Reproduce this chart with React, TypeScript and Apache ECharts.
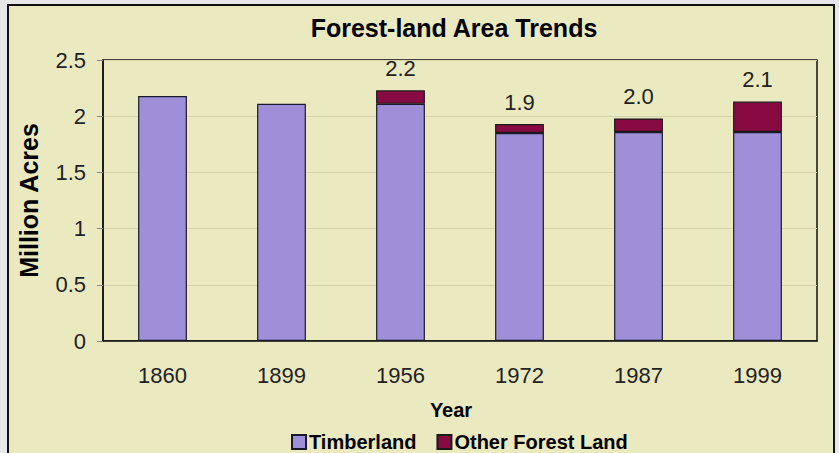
import React, { useEffect, useRef } from "react";
import * as echarts from "echarts";

const years = ["1860", "1899", "1956", "1972", "1987", "1999"];
const timberland = [2.18, 2.11, 2.11, 1.85, 1.86, 1.86];
const otherForest: (number | null)[] = [null, null, 0.12, 0.08, 0.12, 0.27];
const yTicks = { min: 0, max: 2.5, interval: 0.5 };

const FONT = "'Liberation Sans', Arial, sans-serif";

export default function App() {
  const ref = useRef<HTMLDivElement>(null);
  useEffect(() => {
    document.body.style.margin = "0";
    const chart = echarts.init(ref.current!, null, { renderer: "svg" });
    const totals = timberland.map((t, i) => t + (otherForest[i] ?? 0));
    chart.setOption({
      animation: false,
      backgroundColor: "#e7e7ea",
      textStyle: { fontFamily: FONT },
      graphic: [
        {
          type: "rect",
          z: -10,
          silent: true,
          shape: { x: 8, y: 5, width: 826, height: 460 },
          style: { fill: "#ebe9c0", stroke: "#111", lineWidth: 2 },
        },
        {
          type: "text",
          x: 451,
          y: 410,
          style: {
            text: "Year",
            fontFamily: FONT,
            fontSize: 20,
            fontWeight: "bold",
            fill: "#000",
            align: "center",
            verticalAlign: "middle",
          },
        },
      ],
      title: {
        text: "Forest-land Area Trends",
        left: 449,
        top: 10,
        textAlign: "center",
        textStyle: { fontFamily: FONT, fontSize: 25, fontWeight: "bold", color: "#000" },
      },
      legend: {
        left: 291,
        top: 432,
        padding: 0,
        icon: "rect",
        itemWidth: 14,
        itemHeight: 14,
        itemGap: 20,
        textStyle: {
          fontFamily: FONT,
          fontSize: 20,
          lineHeight: 18,
          fontWeight: "bold",
          color: "#000",
          padding: [0, 0, 0, -2],
        },
        data: ["Timberland", "Other Forest Land"],
      },
      grid: {
        left: 103,
        right: 22,
        top: 60,
        bottom: 112,
        show: true,
        backgroundColor: "#ebe9c0",
        borderColor: "#111",
        borderWidth: 1.5,
      },
      xAxis: {
        type: "category",
        data: years,
        axisLine: { lineStyle: { color: "#111", width: 1.5 } },
        axisTick: { show: false },
        axisLabel: { fontFamily: FONT, fontSize: 22, color: "#222", margin: 23 },
      },
      yAxis: {
        type: "value",
        min: yTicks.min,
        max: yTicks.max,
        interval: yTicks.interval,
        name: "Million Acres",
        nameLocation: "middle",
        nameGap: 62,
        nameTextStyle: { fontFamily: FONT, fontSize: 25, fontWeight: "bold", color: "#000" },
        axisLine: { show: true, lineStyle: { color: "#111", width: 1.5 } },
        axisTick: { show: true, length: 6, lineStyle: { color: "#888" } },
        axisLabel: { fontFamily: FONT, fontSize: 22, color: "#222", margin: 17 },
        splitLine: { lineStyle: { color: "#d6d3aa", width: 1 } },
      },
      series: [
        {
          name: "Timberland",
          type: "bar",
          stack: "total",
          barWidth: "41%",
          data: timberland,
          itemStyle: { color: "#9e8fd8", borderColor: "#1a1a2a", borderWidth: 1.2 },
        },
        {
          name: "Other Forest Land",
          type: "bar",
          stack: "total",
          barWidth: "41%",
          data: otherForest.map((v) => (v === null ? "-" : v)),
          itemStyle: { color: "#870b42", borderColor: "#1a1a1a", borderWidth: 1.2 },
          label: {
            show: true,
            position: "top",
            distance: 11,
            fontFamily: FONT,
            fontSize: 22,
            color: "#222",
            formatter: (p: any) => totals[p.dataIndex].toFixed(1),
          },
        },
      ],
    });
    return () => chart.dispose();
  }, []);
  return <div ref={ref} style={{ width: 839, height: 453 }} />;
}
